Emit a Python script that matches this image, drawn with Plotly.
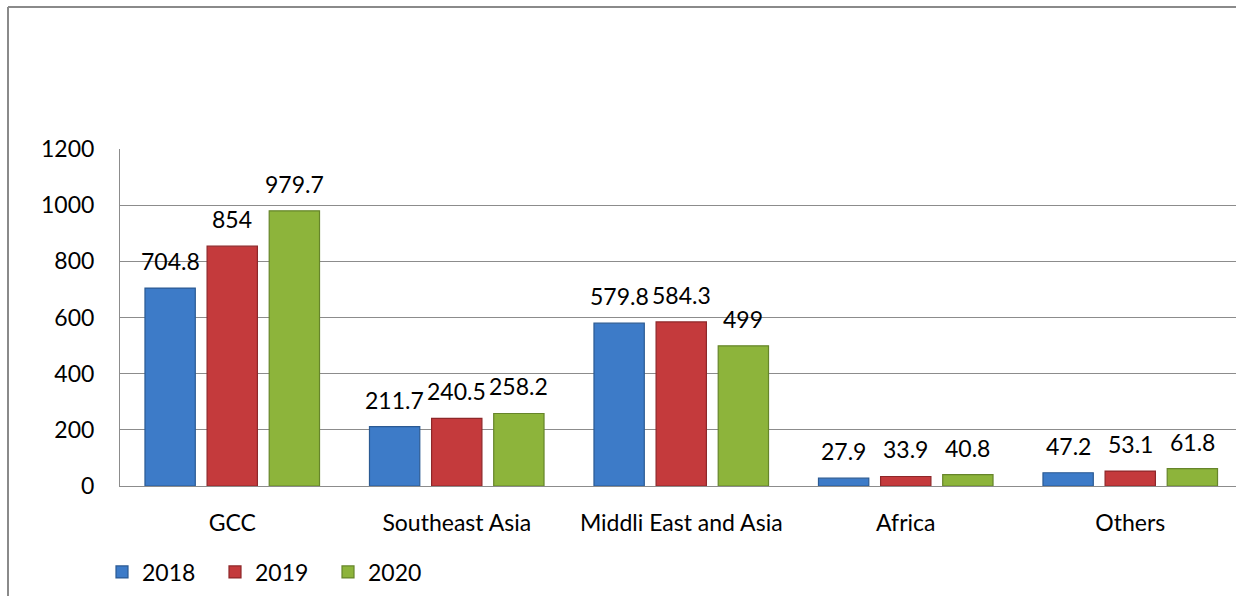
import plotly.graph_objects as go

# Values per region and year
regions = ["GCC", "Southeast Asia", "Middli East and Asia", "Africa", "Others"]
years = ["2018", "2019", "2020"]
values_2018 = [704.8, 211.7, 579.8, 27.9, 47.2]
values_2019 = [854, 240.5, 584.3, 33.9, 53.1]
values_2020 = [979.7, 258.2, 499, 40.8, 61.8]
y_ticks = [0, 200, 400, 600, 800, 1000, 1200]

series = [values_2018, values_2019, values_2020]
fills = ["#3d7bc8", "#c43a3c", "#8db43b"]
edges = ["#2b5a93", "#8e2729", "#66852a"]

W, H = 1236, 596
M_L, M_R, M_T, M_B = 120, 0, 149, 110
BARGAP, GROUPGAP = 0.17, 0.19
FONT = dict(family="Lato, 'Open Sans', sans-serif", size=23, color="#000000")
GRID = "#8c8c8c"

plot_w = W - M_L - M_R
plot_h = H - M_T - M_B

fig = go.Figure()
for name, vals, fc, ec in zip(years, series, fills, edges):
    fig.add_trace(go.Bar(
        name=name, x=regions, y=vals,
        marker=dict(color=fc, line=dict(color=ec, width=1.2)),
        hoverinfo="skip",
    ))

# value labels centred over each bar
slot = (1 - BARGAP) / len(series)
annotations = []
for k, vals in enumerate(series):
    for i, v in enumerate(vals):
        annotations.append(dict(
            x=i + (k - 1) * slot, y=v, xref="x", yref="y",
            text=f"{v:g}", showarrow=False, yanchor="middle", yshift=27,
            font=FONT,
        ))

def px_x(px):
    return (px - M_L) / plot_w
def px_y(py):
    return (H - M_B - py) / plot_h

# outer frame lines (top and left edges of the chart area)
frame = [
    dict(type="line", xref="paper", yref="paper",
         x0=px_x(8), x1=px_x(W), y0=px_y(7), y1=px_y(7),
         line=dict(color="#8a8a8a", width=2)),
    dict(type="line", xref="paper", yref="paper",
         x0=px_x(8), x1=px_x(8), y0=px_y(7), y1=px_y(H),
         line=dict(color="#8a8a8a", width=2)),
]

fig.update_layout(
    width=W, height=H,
    margin=dict(l=M_L, r=M_R, t=M_T, b=M_B, autoexpand=False),
    paper_bgcolor="white", plot_bgcolor="white",
    barmode="group", bargap=BARGAP, bargroupgap=GROUPGAP,
    font=FONT,
    showlegend=True,
    legend=dict(
        orientation="h", x=px_x(102), xanchor="left",
        y=px_y(572), yanchor="middle",
        font=FONT, itemwidth=30, entrywidth=68, entrywidthmode="pixels",
        bgcolor="rgba(0,0,0,0)",
    ),
    annotations=annotations,
    shapes=frame,
    xaxis=dict(
        type="category", range=[-0.5, -0.5 + plot_w / (plot_w + 6.5) * 5],
        showline=True, linecolor=GRID, linewidth=1,
        ticks="", showgrid=False, ticklabelstandoff=16,
        tickfont=FONT, fixedrange=True,
    ),
    yaxis=dict(
        range=[0, 1200], tickvals=y_ticks,
        showline=True, linecolor=GRID, linewidth=1,
        showgrid=True, gridcolor=GRID, gridwidth=1,
        zeroline=False, ticks="", ticklabelstandoff=20,
        tickfont=FONT, fixedrange=True,
    ),
)

fig.write_html(
    "out.html",
    config={"displayModeBar": False},
    post_script="document.documentElement.style.overflow='hidden';"
                "document.body.style.margin='0';document.body.style.overflow='hidden';",
)
